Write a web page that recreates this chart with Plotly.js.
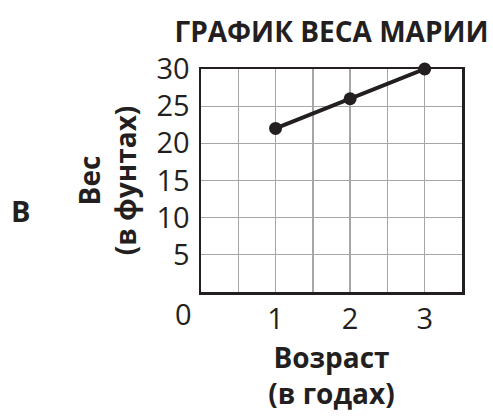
<!DOCTYPE html>
<html>
<head>
<meta charset="utf-8">
<script src="https://cdn.plot.ly/plotly-3.0.1.min.js"></script>
<style>html,body{margin:0;padding:0;background:#fff;}#chart{width:493px;height:418px;}</style>
</head>
<body>
<div id="chart"></div>
<script>
const ageYears = [1, 2, 3];
const weightPounds = [22, 26, 30];
const xTickVals = [0, 0.5, 1, 1.5, 2, 2.5, 3, 3.5];
const xTickText = ['', '', '1', '', '2', '', '3', ''];
const yTickVals = [0, 5, 10, 15, 20, 25, 30];
const yTickText = ['', '5', '10', '15', '20', '25', '30'];
const chartTitle = 'ГРАФИК ВЕСА МАРИИ';
const xTitle = 'Возраст<br>(в годах)';
const yTitle = 'Вес<br>(в фунтах)';
const originLabel = '0';
const optionLetter = 'В';

const ink = '#231f20';
const fontFam = '"Open Sans", "DejaVu Sans", sans-serif';

const trace = {
  x: ageYears, y: weightPounds, type: 'scatter', mode: 'lines+markers',
  line: {color: ink, width: 4},
  marker: {color: ink, size: 13},
  cliponaxis: false, hoverinfo: 'skip'
};

const layout = {
  width: 493, height: 418,
  margin: {l: 201, r: 31, t: 69, b: 126},
  paper_bgcolor: '#fff', plot_bgcolor: '#fff',
  showlegend: false,
  font: {family: fontFam, color: ink, size: 29},
  title: {text: '<b>' + chartTitle + '</b>', font: {family: fontFam, size: 28, color: ink},
          x: 0.5, xref: 'paper', xanchor: 'center', y: 1 - 32/418, yref: 'container', yanchor: 'middle'},
  xaxis: {
    range: [0, 3.5], tickvals: xTickVals, ticktext: xTickText,
    showgrid: true, gridcolor: '#a6a6a6', gridwidth: 1.3,
    showline: true, linecolor: ink, linewidth: 2.5, mirror: true,
    ticks: '', zeroline: false, fixedrange: true,
    tickfont: {size: 29, family: fontFam, color: ink},
    title: {text: '<b>' + xTitle + '</b>', font: {size: 28, family: fontFam, color: ink}, standoff: 12}
  },
  yaxis: {
    range: [0, 30], tickvals: yTickVals, ticktext: yTickText,
    showgrid: true, gridcolor: '#a6a6a6', gridwidth: 1.3,
    showline: true, linecolor: ink, linewidth: 2.5, mirror: true,
    ticks: '', zeroline: false, fixedrange: true, ticklabelstandoff: 3,
    tickfont: {size: 29, family: fontFam, color: ink},
    title: {text: '<b>' + yTitle + '</b>', font: {size: 28, family: fontFam, color: ink}, standoff: 12}
  },
  annotations: [
    {text: originLabel, xref: 'paper', yref: 'paper', x: 0, y: 0, xanchor: 'center', yanchor: 'middle',
     xshift: -18, yshift: -21, showarrow: false, font: {size: 29, family: fontFam, color: ink}},
    {text: '<b>' + optionLetter + '</b>', xref: 'paper', yref: 'paper', x: (20 - 201) / 261, y: (292 - 210) / 223,
     xanchor: 'center', yanchor: 'middle', showarrow: false, font: {size: 29, family: fontFam, color: ink}}
  ]
};

Plotly.newPlot('chart', [trace], layout, {staticPlot: true, displayModeBar: false});
</script>
</body>
</html>
